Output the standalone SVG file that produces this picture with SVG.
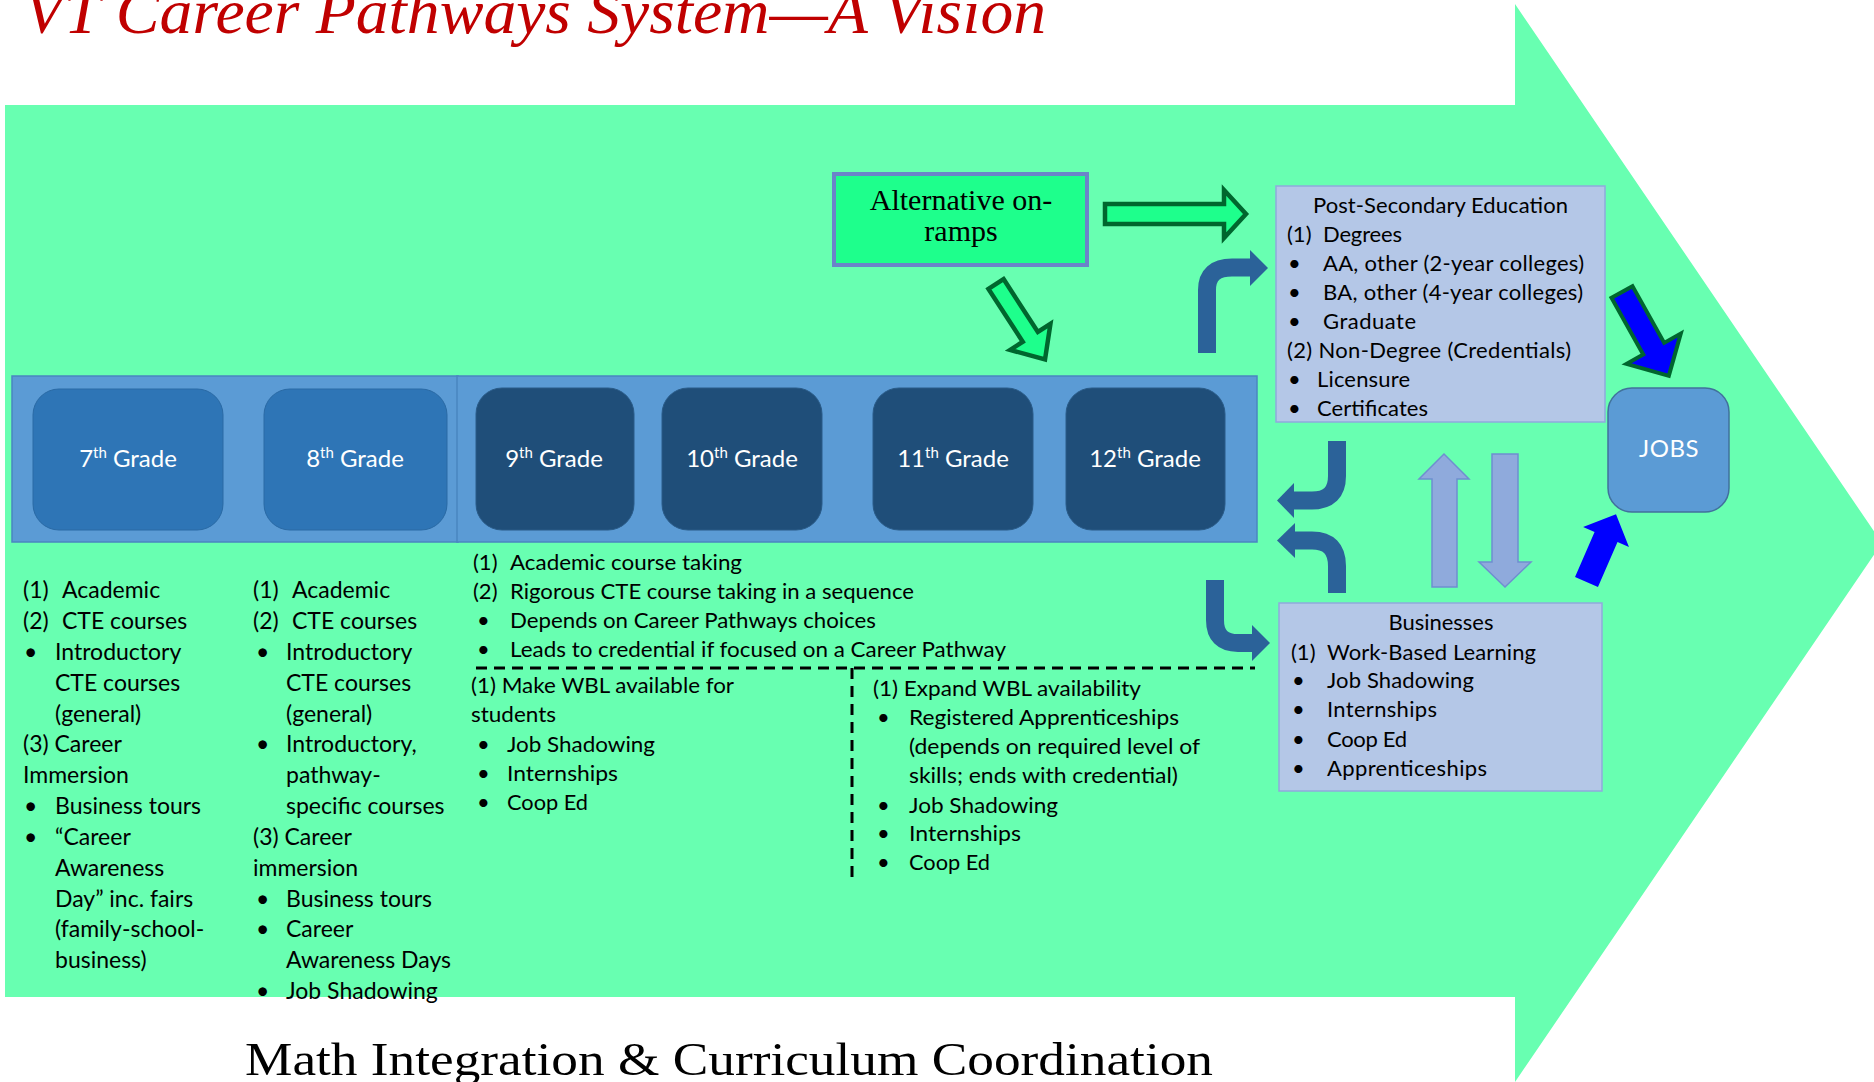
<svg xmlns="http://www.w3.org/2000/svg" width="1874" height="1082" viewBox="0 0 1874 1082">
<defs>
<style>
.t{font-family:Lato,"Liberation Sans",sans-serif;font-size:23px;fill:#000}
.m{font-family:Lato,"Liberation Sans",sans-serif;font-size:22px;fill:#000}
.bx{font-family:Lato,"Liberation Sans",sans-serif;font-size:22px;fill:#000}
.gl{font-family:Lato,"Liberation Sans",sans-serif;font-size:24px;fill:#fff}
.lt{fill:#2E75B6;stroke:#2A6AA5;stroke-width:1}
.dk{fill:#1F4E79;stroke:#2A5B88;stroke-width:1}
.bend{fill:none;stroke:#2B6299;stroke-width:18}
.bendh{fill:#2B6299}
.pale{fill:#8FAADC;stroke:#6F8FCF;stroke-width:1.5}
.dash{stroke:#000;stroke-width:3;stroke-dasharray:11 7;fill:none}
.serif{font-family:"Liberation Serif","DejaVu Serif",serif}
</style>
</defs>

<!-- big background arrow -->
<path d="M5 105 H1515 V4 L1882 543 L1515 1082 V997 H5 Z" fill="#68FFB1"/>

<!-- title -->
<text class="serif" x="24" y="33" font-size="64" font-style="italic" fill="#C00000" textLength="1022" lengthAdjust="spacingAndGlyphs">VT Career Pathways System—A Vision</text>
<text class="serif" x="245" y="1075" font-size="47" fill="#000" textLength="968" lengthAdjust="spacingAndGlyphs">Math Integration &amp; Curriculum Coordination</text>

<!-- grade band -->
<g id="grade-band">
<rect x="12" y="376" width="446" height="166" fill="#5B9BD5" stroke="#4A86C0" stroke-width="1.5"/>
<rect x="457" y="376" width="800" height="166" fill="#5B9BD5" stroke="#4A86C0" stroke-width="1.5"/>
</g>
<g id="grade7"><rect class="lt" x="33" y="389" width="190" height="141" rx="26"/>
<text class="gl" x="128" y="467" text-anchor="middle">7<tspan font-size="15" dy="-9">th</tspan><tspan dy="9"> Grade</tspan></text></g>
<g id="grade8"><rect class="lt" x="264" y="389" width="183" height="141" rx="26"/>
<text class="gl" x="355" y="467" text-anchor="middle">8<tspan font-size="15" dy="-9">th</tspan><tspan dy="9"> Grade</tspan></text></g>
<g id="grade9"><rect class="dk" x="476" y="388" width="158" height="142" rx="26"/>
<text class="gl" x="554" y="467" text-anchor="middle">9<tspan font-size="15" dy="-9">th</tspan><tspan dy="9"> Grade</tspan></text></g>
<g id="grade10"><rect class="dk" x="662" y="388" width="160" height="142" rx="26"/>
<text class="gl" x="742" y="467" text-anchor="middle">10<tspan font-size="15" dy="-9">th</tspan><tspan dy="9"> Grade</tspan></text></g>
<g id="grade11"><rect class="dk" x="873" y="388" width="160" height="142" rx="26"/>
<text class="gl" x="953" y="467" text-anchor="middle">11<tspan font-size="15" dy="-9">th</tspan><tspan dy="9"> Grade</tspan></text></g>
<g id="grade12"><rect class="dk" x="1066" y="388" width="159" height="142" rx="26"/>
<text class="gl" x="1145" y="467" text-anchor="middle">12<tspan font-size="15" dy="-9">th</tspan><tspan dy="9"> Grade</tspan></text></g>

<!-- alternative on-ramps -->
<g id="alt-onramps">
<rect x="834" y="174" width="253" height="91" fill="#1EFF8C" stroke="#6B84C9" stroke-width="4"/>
<text class="serif" x="961" y="210" font-size="30" text-anchor="middle" fill="#000">Alternative on-</text>
<text class="serif" x="961" y="241" font-size="30" text-anchor="middle" fill="#000">ramps</text>
</g>

<!-- post-secondary -->
<g id="post-secondary">
<rect x="1276" y="186" width="329" height="236" fill="#B4C7E7" stroke="#8FAADC" stroke-width="1.5"/>
<text class="bx" x="1313" y="213" textLength="255">Post-Secondary Education</text>
<text class="bx" x="1287" y="242">(1)</text><text class="bx" x="1323" y="242" textLength="79">Degrees</text>
<text class="bx" x="1288" y="271">•</text><text class="bx" x="1323" y="271" textLength="261">AA, other (2-year colleges)</text>
<text class="bx" x="1288" y="300">•</text><text class="bx" x="1323" y="300" textLength="260">BA, other (4-year colleges)</text>
<text class="bx" x="1288" y="329">•</text><text class="bx" x="1323" y="329" textLength="93">Graduate</text>
<text class="bx" x="1287" y="358" textLength="284">(2) Non-Degree (Credentials)</text>
<text class="bx" x="1288" y="387">•</text><text class="bx" x="1317" y="387" textLength="93">Licensure</text>
<text class="bx" x="1288" y="416">•</text><text class="bx" x="1317" y="416" textLength="111">Certificates</text>
</g>

<!-- businesses -->
<g id="businesses">
<rect x="1279" y="603" width="323" height="188" fill="#B4C7E7" stroke="#8FAADC" stroke-width="1.5"/>
<text class="bx" x="1441" y="630" text-anchor="middle" textLength="105">Businesses</text>
<text class="bx" x="1291" y="660">(1)</text><text class="bx" x="1327" y="660" textLength="209">Work-Based Learning</text>
<text class="bx" x="1292" y="688">•</text><text class="bx" x="1327" y="688" textLength="147">Job Shadowing</text>
<text class="bx" x="1292" y="717">•</text><text class="bx" x="1327" y="717" textLength="110">Internships</text>
<text class="bx" x="1292" y="747">•</text><text class="bx" x="1327" y="747" textLength="80">Coop Ed</text>
<text class="bx" x="1292" y="776">•</text><text class="bx" x="1327" y="776" textLength="160">Apprenticeships</text>
</g>

<!-- jobs -->
<g id="jobs">
<rect x="1608" y="388" width="121" height="124" rx="24" fill="#5B9BD5" stroke="#41719C" stroke-width="1.5"/>
<text class="gl" x="1669" y="457" text-anchor="middle" font-size="21" letter-spacing="0.5">JOBS</text>
</g>

<!-- column 7th -->
<g id="col7">
<text class="t" x="23" y="598">(1)</text><text class="t" x="62" y="598">Academic</text>
<text class="t" x="23" y="629">(2)</text><text class="t" x="62" y="629">CTE courses</text>
<text class="t" x="24" y="660">•</text><text class="t" x="55" y="660">Introductory</text>
<text class="t" x="55" y="691">CTE courses</text>
<text class="t" x="55" y="722">(general)</text>
<text class="t" x="23" y="752">(3) Career</text>
<text class="t" x="23" y="783">Immersion</text>
<text class="t" x="24" y="814">•</text><text class="t" x="55" y="814">Business tours</text>
<text class="t" x="24" y="845">•</text><text class="t" x="55" y="845">“Career</text>
<text class="t" x="55" y="876">Awareness</text>
<text class="t" x="55" y="907">Day” inc. fairs</text>
<text class="t" x="55" y="937">(family-school-</text>
<text class="t" x="55" y="968">business)</text>
</g>

<!-- column 8th -->
<g id="col8">
<text class="t" x="253" y="598">(1)</text><text class="t" x="292" y="598">Academic</text>
<text class="t" x="253" y="629">(2)</text><text class="t" x="292" y="629">CTE courses</text>
<text class="t" x="256" y="660">•</text><text class="t" x="286" y="660">Introductory</text>
<text class="t" x="286" y="691">CTE courses</text>
<text class="t" x="286" y="722">(general)</text>
<text class="t" x="256" y="752">•</text><text class="t" x="286" y="752">Introductory,</text>
<text class="t" x="286" y="783">pathway-</text>
<text class="t" x="286" y="814">specific courses</text>
<text class="t" x="253" y="845">(3) Career</text>
<text class="t" x="253" y="876">immersion</text>
<text class="t" x="256" y="907">•</text><text class="t" x="286" y="907">Business tours</text>
<text class="t" x="256" y="937">•</text><text class="t" x="286" y="937">Career</text>
<text class="t" x="286" y="968">Awareness Days</text>
<text class="t" x="256" y="999">•</text><text class="t" x="286" y="999">Job Shadowing</text>
</g>

<!-- high school column -->
<g id="col-hs">
<text class="m" x="473" y="570">(1)</text><text class="m" x="510" y="570" textLength="232" lengthAdjust="spacingAndGlyphs">Academic course taking</text>
<text class="m" x="473" y="599">(2)</text><text class="m" x="510" y="599" textLength="404" lengthAdjust="spacingAndGlyphs">Rigorous CTE course taking in a sequence</text>
<text class="m" x="477" y="628">•</text><text class="m" x="510" y="628" textLength="366" lengthAdjust="spacingAndGlyphs">Depends on Career Pathways choices</text>
<text class="m" x="477" y="657">•</text><text class="m" x="510" y="657" textLength="496" lengthAdjust="spacingAndGlyphs">Leads to credential if focused on a Career Pathway</text>
</g>
<g id="col-wbl">
<text class="m" x="471" y="693" textLength="263" lengthAdjust="spacingAndGlyphs">(1) Make WBL available for</text>
<text class="m" x="471" y="722" textLength="85" lengthAdjust="spacingAndGlyphs">students</text>
<text class="m" x="477" y="752">•</text><text class="m" x="507" y="752" textLength="148" lengthAdjust="spacingAndGlyphs">Job Shadowing</text>
<text class="m" x="477" y="781">•</text><text class="m" x="507" y="781" textLength="111" lengthAdjust="spacingAndGlyphs">Internships</text>
<text class="m" x="477" y="810">•</text><text class="m" x="507" y="810" textLength="81" lengthAdjust="spacingAndGlyphs">Coop Ed</text>
</g>
<g id="col-expand">
<text class="m" x="873" y="696" textLength="268" lengthAdjust="spacingAndGlyphs">(1) Expand WBL availability</text>
<text class="m" x="877" y="725">•</text><text class="m" x="909" y="725" textLength="270" lengthAdjust="spacingAndGlyphs">Registered Apprenticeships</text>
<text class="m" x="909" y="754" textLength="291" lengthAdjust="spacingAndGlyphs">(depends on required level of</text>
<text class="m" x="909" y="783" textLength="269" lengthAdjust="spacingAndGlyphs">skills; ends with credential)</text>
<text class="m" x="877" y="813">•</text><text class="m" x="909" y="813" textLength="149" lengthAdjust="spacingAndGlyphs">Job Shadowing</text>
<text class="m" x="877" y="841">•</text><text class="m" x="909" y="841" textLength="112" lengthAdjust="spacingAndGlyphs">Internships</text>
<text class="m" x="877" y="870">•</text><text class="m" x="909" y="870" textLength="81" lengthAdjust="spacingAndGlyphs">Coop Ed</text>
</g>

<!-- connectors -->
<g id="connectors">
<path class="dash" d="M476 668 H1255"/>
<path class="dash" d="M852 668 V882"/>
<!-- green outlined arrows from alternative on-ramps -->
<path d="M1105 204 H1224 V190 L1246 214 L1224 238 V224 H1105 Z" fill="#1EFF8C" stroke="#00662E" stroke-width="4.5" stroke-linejoin="miter"/>
<path d="M0 -9 H63 V-24 L90 0 L63 24 V9 H0 Z" transform="translate(996 284) rotate(57)" fill="#1EFF8C" stroke="#00662E" stroke-width="4.5"/>
<!-- bent arrows -->
<path class="bend" d="M1207 353 V290 Q1207 267.5 1232 267.5 H1251"/>
<path class="bendh" d="M1250 250 L1268 268 L1250 286 Z"/>
<path class="bend" d="M1337 441 V476 Q1337 500.5 1312 500.5 H1292"/>
<path class="bendh" d="M1294 483 L1277 500.5 L1294 518 Z"/>
<path class="bend" d="M1337 593 V566 Q1337 540.5 1312 540.5 H1293"/>
<path class="bendh" d="M1295 523 L1277 540.5 L1295 558 Z"/>
<path class="bend" d="M1215 580 V620 Q1215 643 1238 643 H1253"/>
<path class="bendh" d="M1252 625 L1270 643 L1252 661 Z"/>
<!-- pale up/down arrows -->
<path class="pale" d="M1432 587 V479 H1419 L1444 454 L1469 479 H1457 V587 Z"/>
<path class="pale" d="M1492 454 H1518 V562 H1531 L1505 587 L1479 562 H1492 Z"/>
<!-- blue arrows to jobs -->
<path d="M0 -12 H65 V-31 L96 0 L65 31 V12 H0 Z" transform="translate(1622 292) rotate(60.8)" fill="#0000FF" stroke="#00662E" stroke-width="4"/>
<path d="M0 -12.5 H49 V-25 L74 0 L49 25 V12.5 H0 Z" transform="translate(1586.5 582) rotate(-66.5)" fill="#0000FF"/>
</g>
</svg>
